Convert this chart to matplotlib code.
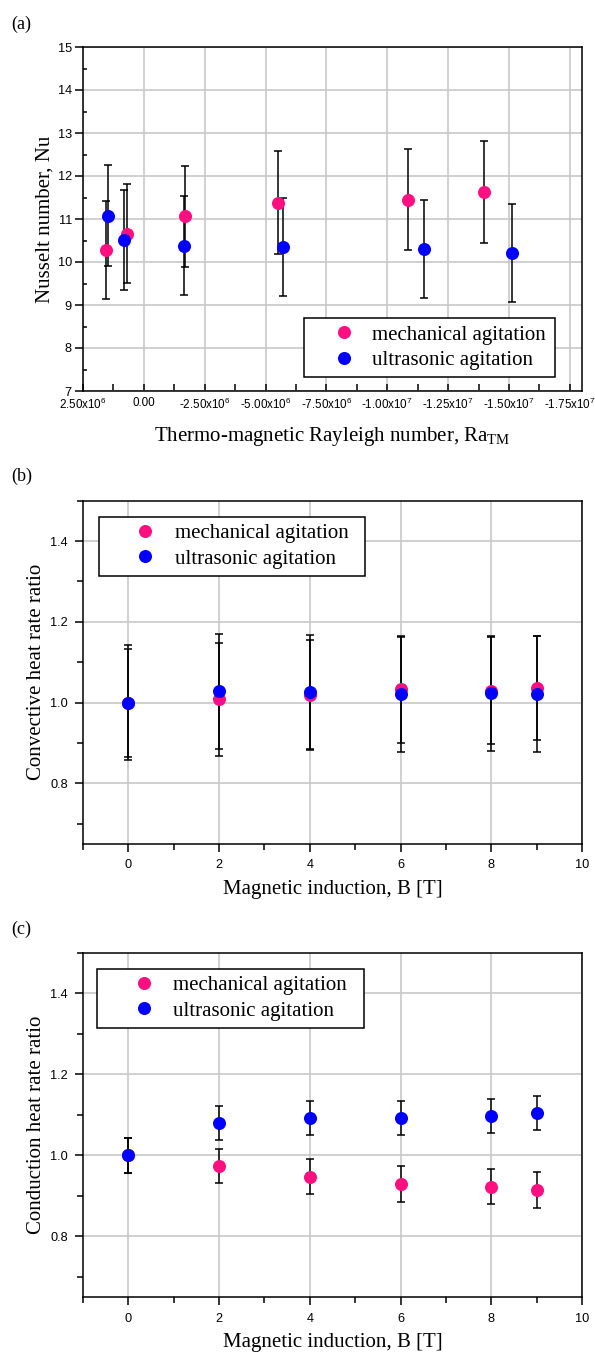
import matplotlib
matplotlib.use('Agg')
import matplotlib.pyplot as plt
from matplotlib.ticker import MultipleLocator, FuncFormatter
import numpy as np

plt.rcParams['mathtext.fontset'] = 'custom'
plt.rcParams['mathtext.rm'] = 'Liberation Serif'
plt.rcParams['mathtext.sf'] = 'Liberation Sans'

# (a) Nusselt number vs thermo-magnetic Rayleigh number
ra_mech = [1.57e6, 0.71e6, -1.68e6, -5.51e6, -1.084e7, -1.399e7]
nu_mech = [10.28, 10.66, 11.06, 11.38, 11.45, 11.63]
nu_mech_err = [1.15, 1.15, 1.17, 1.19, 1.18, 1.19]
ra_ultra = [1.48e6, 0.82e6, -1.63e6, -5.73e6, -1.151e7, -1.511e7]
nu_ultra = [11.08, 10.52, 10.38, 10.34, 10.31, 10.22]
nu_ultra_err = [1.17, 1.16, 1.15, 1.14, 1.14, 1.14]

# (b), (c) ratios vs magnetic induction
b_field = [0, 2, 4, 6, 8, 9]
conv_mech = [1.0, 1.008, 1.018, 1.033, 1.030, 1.037]
conv_mech_err = [0.134, 0.139, 0.136, 0.132, 0.132, 0.129]
conv_ultra = [1.0, 1.028, 1.026, 1.021, 1.023, 1.021]
conv_ultra_err = [0.143, 0.142, 0.142, 0.142, 0.143, 0.144]

cond_mech = [1.0, 0.974, 0.947, 0.930, 0.923, 0.915]
cond_mech_err = [0.044, 0.043, 0.043, 0.044, 0.044, 0.044]
cond_ultra = [1.0, 1.081, 1.092, 1.093, 1.098, 1.105]
cond_ultra_err = [0.044, 0.042, 0.042, 0.042, 0.042, 0.042]

labels = ['mechanical agitation', 'ultrasonic agitation']
pink = '#FF0F80'
blue = '#0000FF'
serif = 'Liberation Serif'
sans = 'Liberation Sans'

W, H = 595, 1352
fig = plt.figure(figsize=(W / 100, H / 100), dpi=100)


def make_axes(left, top, right, bottom):
    return fig.add_axes([left / W, 1 - bottom / H, (right - left) / W, (bottom - top) / H])


def draw(ax, x1, y1, e1, x2, y2, e2):
    ax.errorbar(x1, y1, yerr=e1, fmt='none', ecolor='black', elinewidth=1.1,
                capsize=2.8, capthick=1.1, zorder=3)
    ax.errorbar(x2, y2, yerr=e2, fmt='none', ecolor='black', elinewidth=1.1,
                capsize=2.8, capthick=1.1, zorder=3)
    ax.plot(x1, y1, 'o', color=pink, ms=9.4, mec='none', zorder=4, label=labels[0])
    ax.plot(x2, y2, 'o', color=blue, ms=9.4, mec='none', zorder=5, label=labels[1])


def style(ax, xsize=9.2):
    ax.grid(True, which='major', color='#c8c8c8', lw=1.2, zorder=0)
    ax.set_axisbelow(True)
    for s in ax.spines.values():
        s.set_linewidth(1.1)
    for lab in ax.get_xticklabels():
        lab.set_fontfamily(sans)
        lab.set_fontsize(xsize)
    for lab in ax.get_yticklabels():
        lab.set_fontfamily(sans)
        lab.set_fontsize(9.2)


def legend(ax, anchor, loc, hl, htp):
    leg = ax.legend(prop={'family': serif, 'size': 15}, frameon=True, fancybox=False,
                    edgecolor='black', framealpha=1, borderaxespad=0, borderpad=0.33,
                    handlelength=hl, handletextpad=htp, labelspacing=0.28,
                    loc=loc, bbox_to_anchor=anchor, mode='expand')
    leg.get_frame().set_linewidth(1.1)


def sci(v, pos):
    if abs(v) < 1:
        return '0.00'
    e = int(np.floor(np.log10(abs(v))))
    m = v / 10 ** e
    return '%.2fx10$^{\\mathsf{%d}}$' % (m, e)


# panel (a)
ax = make_axes(83, 47, 582, 391)
draw(ax, ra_mech, nu_mech, nu_mech_err, ra_ultra, nu_ultra, nu_ultra_err)
ax.set_xlim(2.5e6, -1.8e7)
ax.set_ylim(7, 15)
ax.xaxis.set_major_locator(MultipleLocator(2.5e6))
ax.xaxis.set_minor_locator(MultipleLocator(1.25e6))
ax.xaxis.set_major_formatter(FuncFormatter(sci))
ax.yaxis.set_major_locator(MultipleLocator(1))
ax.yaxis.set_minor_locator(MultipleLocator(0.5))
ax.tick_params(axis='x', which='both', direction='in', length=5, width=1.1, pad=4)
ax.tick_params(axis='y', which='major', direction='out', length=6, width=1.1, pad=2)
ax.tick_params(axis='y', which='minor', direction='in', length=3, width=1.1)
style(ax, xsize=8.4)
ax.set_ylabel('Nusselt number, Nu', family=serif, fontsize=15)
ax.yaxis.set_label_coords(-0.058, 0.5)
ax.set_xlabel('Thermo-magnetic Rayleigh number, Ra$_{\\mathrm{TM}}$', family=serif, fontsize=15)
ax.xaxis.set_label_coords(0.5, -0.098)
legend(ax, (0.443, 0.041, 0.503, 0.0), 'lower left', 3.15, -0.23)
fig.text(11 / W, 1 - 24 / H, '(a)', family=serif, fontsize=13, va='center', ha='left')

# panels (b) and (c)
panels = [
    (500.7, 844, conv_mech, conv_mech_err, conv_ultra, conv_ultra_err,
     'Convective heat rate ratio', '(b)', 476, (0.032, 0.953, 0.533, 0.0)),
    (952.7, 1297.3, cond_mech, cond_mech_err, cond_ultra, cond_ultra_err,
     'Conduction heat rate ratio', '(c)', 929.5, (0.029, 0.953, 0.535, 0.0)),
]
for top, bottom, m, me, u, ue, ylab, tag, ty, anchor in panels:
    ax = make_axes(83, top, 582, bottom)
    draw(ax, b_field, m, me, b_field, u, ue)
    ax.set_xlim(-1, 10)
    ax.set_ylim(0.65, 1.5)
    ax.xaxis.set_major_locator(MultipleLocator(2))
    ax.xaxis.set_minor_locator(MultipleLocator(1))
    ax.yaxis.set_major_locator(MultipleLocator(0.2))
    ax.yaxis.set_minor_locator(MultipleLocator(0.1))
    ax.yaxis.set_major_formatter(FuncFormatter(lambda v, p: '%.1f' % v))
    ax.tick_params(which='major', direction='out', length=6, width=1.1, pad=5)
    ax.tick_params(which='minor', direction='out', length=4, width=1.1)
    style(ax)
    ax.set_ylabel(ylab, family=serif, fontsize=15)
    ax.yaxis.set_label_coords(-0.074, 0.5)
    ax.set_xlabel('Magnetic induction, B [T]', family=serif, fontsize=15)
    ax.xaxis.set_label_coords(0.5, -0.105)
    legend(ax, anchor, 'upper left', 3.79, -0.49)
    fig.text(11 / W, 1 - ty / H, tag, family=serif, fontsize=13, va='center', ha='left')

fig.savefig('out.png', dpi=100)
